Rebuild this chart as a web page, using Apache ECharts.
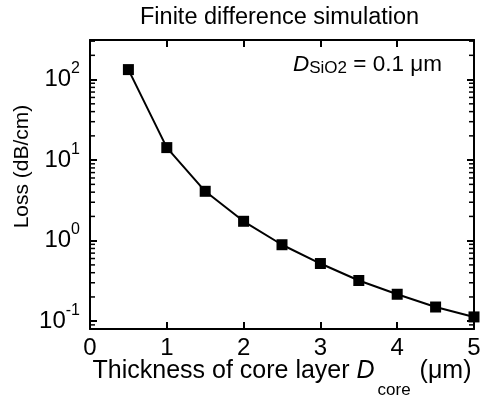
<!DOCTYPE html>
<html>
<head>
<meta charset="utf-8">
<script src="https://cdn.jsdelivr.net/npm/echarts@6/dist/echarts.min.js"></script>
<style>
    body { margin: 0; background: #fff; }
    #main-graph { width: 480px; height: 396px; }
</style>
</head>
<body>
<div id="main-graph"></div>
<script>
// core thickness (um) and simulated loss (dB/cm)
let thickness = [0.5, 1, 1.5, 2, 2.5, 3, 3.5, 4, 4.5, 5];
let loss = [133, 14.3, 4.1, 1.74, 0.89, 0.52, 0.32, 0.216, 0.150, 0.113];

// minor ticks of the log axis (2..9 of each decade)
let minorTickValues = [
    0.08, 0.09,
    0.2, 0.3, 0.4, 0.5, 0.6, 0.7, 0.8, 0.9,
    2, 3, 4, 5, 6, 7, 8, 9,
    20, 30, 40, 50, 60, 70, 80, 90,
    200, 300
];

let font = "'Liberation Sans', Arial, sans-serif";
let xMin = 0, xMax = 5;
let yMin = 0.08, yMax = 310;

let mychart = echarts.init(document.getElementById('main-graph'));

function powLabel(val) {
    let e = Math.round(Math.log10(val));
    if (Math.abs(val / Math.pow(10, e) - 1) > 1e-6) {
        return '';
    }
    return '{b|10}{e|' + e + '}';
}

let frameLine = { show: true, onZero: false, lineStyle: { color: '#000', width: 2 } };
let majorTick = { show: true, inside: true, length: 7, lineStyle: { color: '#000', width: 2 } };

let option = {
    animation: false,
    textStyle: { fontFamily: font },
    title: {
        text: 'Finite difference simulation',
        left: 140,
        top: 6,
        padding: 0,
        textStyle: { fontFamily: font, fontSize: 23.5, fontWeight: 'normal', color: '#000' }
    },
    grid: { left: 90, right: 6, top: 40, bottom: 67, outerBoundsMode: 'none' },
    xAxis: [{
        type: 'value',
        min: xMin,
        max: xMax,
        interval: 1,
        axisLine: frameLine,
        axisTick: majorTick,
        splitLine: { show: false },
        axisLabel: { color: '#000', fontSize: 24, fontFamily: font, margin: 7 },
        name: '{n|Thickness of core layer }{i|D}{s|core}{n| (\u03bcm)}',
        nameLocation: 'middle',
        nameGap: 15,
        nameMoveOverlap: false,
        nameTextStyle: {
            rich: {
                n: { fontSize: 25, fontFamily: font, color: '#000' },
                i: { fontSize: 25, fontFamily: font, fontStyle: 'italic', color: '#000' },
                s: { fontSize: 17, fontFamily: font, color: '#000', padding: [38, 2, 0, 3] }
            }
        }
    }, {
        type: 'value',
        position: 'top',
        min: xMin,
        max: xMax,
        interval: 1,
        axisLine: frameLine,
        axisTick: majorTick,
        axisLabel: { show: false },
        splitLine: { show: false }
    }],
    yAxis: [{
        type: 'log',
        logBase: 10,
        min: yMin,
        max: yMax,
        axisLine: frameLine,
        axisTick: majorTick,
        splitLine: { show: false },
        axisLabel: {
            margin: 10,
            formatter: powLabel,
            rich: {
                b: { fontSize: 24, fontFamily: font, color: '#000', lineHeight: 38 },
                e: { fontSize: 16, fontFamily: font, color: '#000', lineHeight: 15, verticalAlign: 'top' }
            }
        },
        name: 'Loss (dB/cm)',
        nameLocation: 'middle',
        nameGap: 57,
        nameRotate: 90,
        nameMoveOverlap: false,
        nameTextStyle: { fontSize: 21, fontFamily: font, color: '#000', padding: [0, 0, 0, 36] }
    }, {
        type: 'log',
        logBase: 10,
        position: 'right',
        min: yMin,
        max: yMax,
        axisLine: frameLine,
        axisTick: majorTick,
        axisLabel: { show: false },
        splitLine: { show: false }
    }],
    graphic: [{
        type: 'text',
        left: 293,
        top: 53,
        style: {
            text: '{i|D}{s|SiO2}{n| = 0.1 \u03bcm}',
            rich: {
                i: { fontSize: 22.5, fontFamily: font, fontStyle: 'italic', fill: '#000' },
                s: { fontSize: 17, fontFamily: font, fill: '#000', padding: [8, 0, 0, 0] },
                n: { fontSize: 22.5, fontFamily: font, fill: '#000' }
            }
        }
    }],
    series: [{
        name: 'minor ticks',
        type: 'custom',
        silent: true,
        clip: false,
        renderItem: function (params, api) {
            let l = api.coord([xMin, api.value(1)]);
            let r = api.coord([xMax, api.value(1)]);
            let st = { stroke: '#000', lineWidth: 1.5 };
            return {
                type: 'group',
                children: [
                    { type: 'line', shape: { x1: l[0], y1: l[1], x2: l[0] + 5, y2: l[1] }, style: st },
                    { type: 'line', shape: { x1: r[0] - 5, y1: r[1], x2: r[0], y2: r[1] }, style: st }
                ]
            };
        },
        data: minorTickValues.map(function (v) { return [xMin, v]; })
    }, {
        name: 'loss',
        type: 'line',
        clip: false,
        symbol: 'rect',
        symbolSize: 11,
        itemStyle: { color: '#000' },
        lineStyle: { color: '#000', width: 2 },
        data: thickness.map(function (x, i) { return [x, loss[i]]; })
    }]
};
mychart.setOption(option);
</script>
</body>
</html>
